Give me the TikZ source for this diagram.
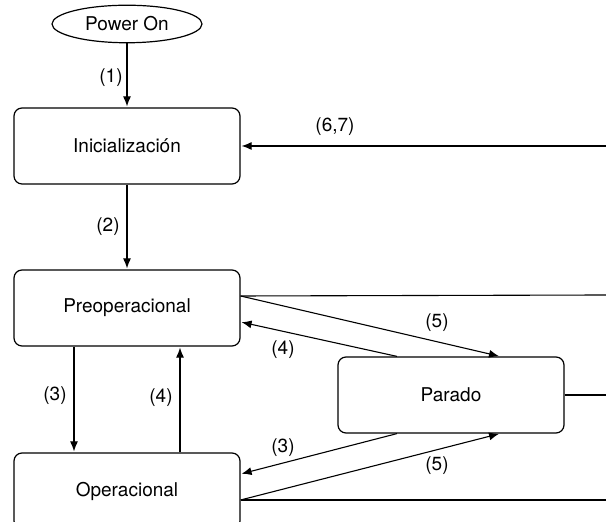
\documentclass[tikz,border=0pt]{standalone}
\usepackage{fontspec}
\setmainfont{TeX Gyre Heros}
\usetikzlibrary{shapes.geometric,arrows.meta}

\begin{document}
\begin{tikzpicture}[x=0.5pt,y=-0.5pt,
  every node/.append style={font=\fontsize{9.5}{11}\selectfont},
  state/.style={draw,rounded corners=4pt,minimum width=113pt,minimum height=38pt,inner sep=0pt,line width=0.6pt},
  start/.style={draw,ellipse,minimum width=75pt,minimum height=17pt,inner xsep=0pt,inner ysep=3pt,line width=0.6pt},
  trans/.style={-{Latex[length=5pt,width=4pt]},line width=0.55pt,shorten >=0.5pt},
  wire/.style={line width=0.55pt}]
\useasboundingbox (0,0) rectangle (606,522);
\clip (0,0) rectangle (606,522);
% states
\node [start] (power) at (127,24) {Power On};
\node [state] (init) at (127,146) {Inicialización};
\node [state] (preop) at (127,308) {Preoperacional};
\node [state] (parado) at (451,395) {Parado};
\node [state] (oper) at (127,491) {Operacional};
% free ends at the right border
\coordinate (rinit) at (606,146);
\coordinate (rpreop) at (606,295);
\coordinate (rparado) at (606,395);
\coordinate (roper) at (606,500);
% transitions
\draw [trans] (power) -- (init);
\node (l1) at (111,78) {(1)};
\draw [trans] (init) -- (preop);
\node (l2) at (108,227) {(2)};
\draw [trans] (rinit) -- (init.east);
\node (l67) at (335,127) {(6,7)};
\draw [trans] ([xshift=-26.5pt]preop.south) -- ([xshift=-26.5pt]oper.north);
\node (l3a) at (55,396) {(3)};
\draw [trans] ([xshift=26.5pt]oper.north) -- ([xshift=26.5pt]preop.south);
\node (l4a) at (161,398) {(4)};
\draw [trans] ([yshift=6pt]preop.east) -- ([xshift=24.5pt]parado.north);
\node (l5a) at (437,323) {(5)};
\draw [trans] ([xshift=-27pt]parado.north) -- ([yshift=-7pt]preop.east);
\node (l4b) at (283,350) {(4)};
\draw [trans] ([xshift=-27pt]parado.south) -- ([yshift=8.5pt]oper.east);
\node (l3b) at (283,448) {(3)};
\draw [trans] ([yshift=-4.5pt]oper.east) -- ([xshift=24.5pt]parado.south);
\node (l5b) at (437,466) {(5)};
% lines leaving the picture
\draw [wire] ([yshift=6pt]preop.east) -- (rpreop);
\draw [wire] (parado.east) -- (rparado);
\draw [wire] ([yshift=-4.5pt]oper.east) -- (roper);
\end{tikzpicture}
\end{document}
